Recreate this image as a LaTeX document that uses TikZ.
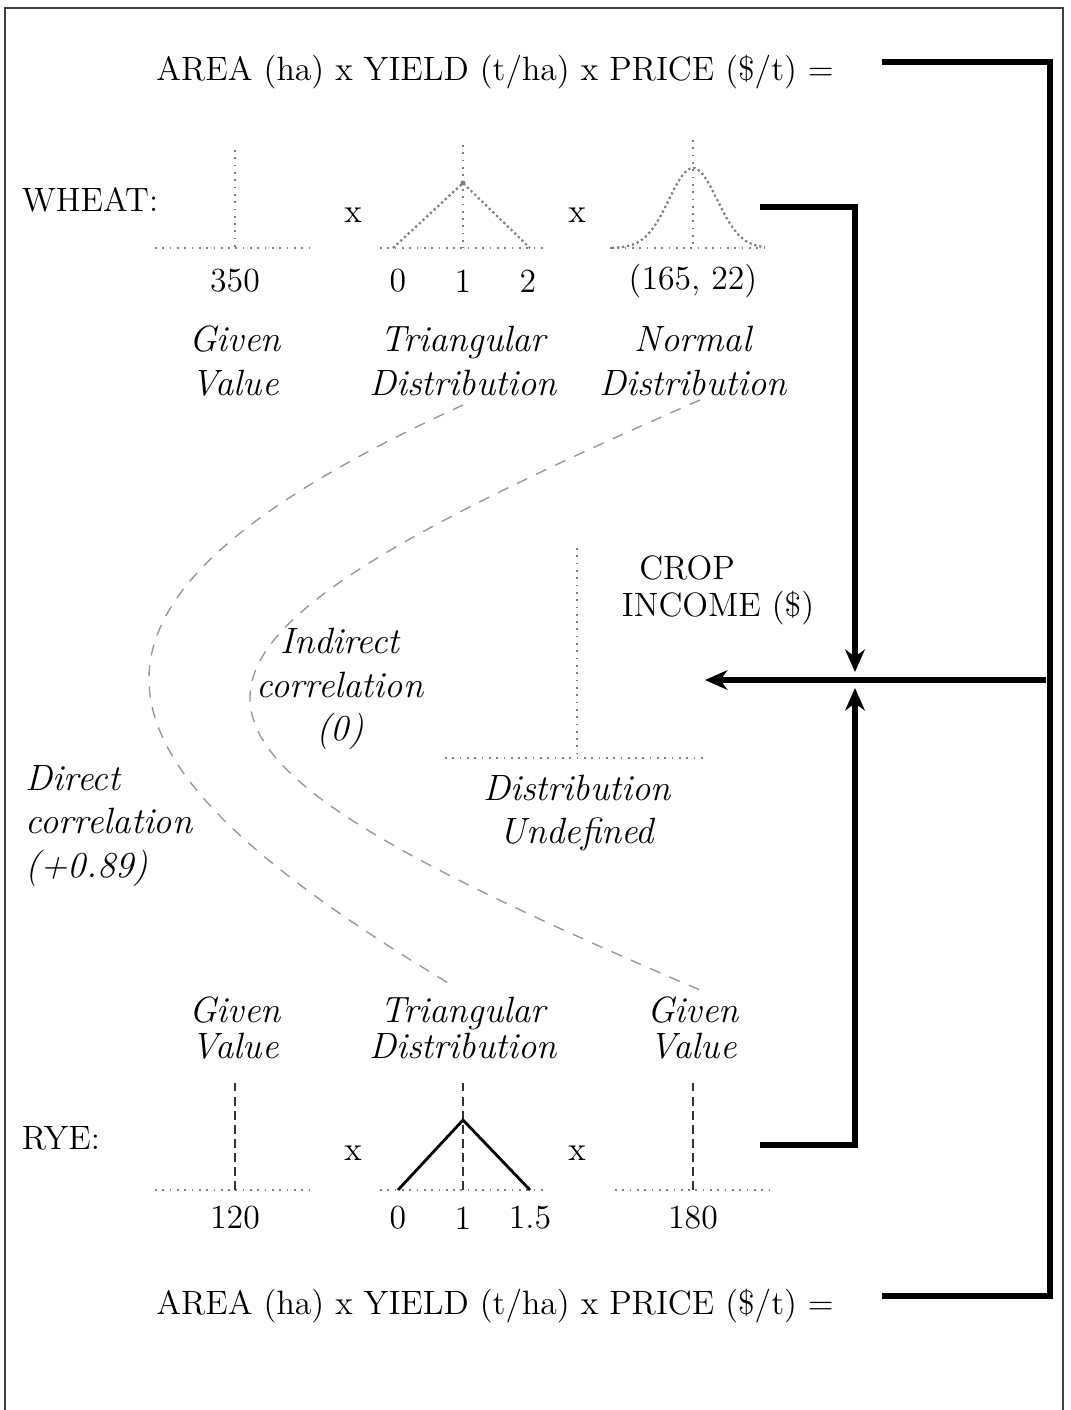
\documentclass[tikz,border=0pt]{standalone}
\usetikzlibrary{arrows.meta}

\begin{document}
\begin{tikzpicture}[x=0.0125cm,y=-0.0125cm,
    lbl/.style={font=\large},
    dlbl/.style={font=\fontsize{13}{15.5}\selectfont\itshape,align=center},
    axisline/.style={gray,dotted,line width=0.6pt},
    flow/.style={line width=2pt},
    corr/.style={gray!80,dash pattern=on 4pt off 3.5pt,line width=0.5pt}]
  \useasboundingbox (0,0) rectangle (1071,1410);
  % frame
  \draw[line width=0.8pt,black!75] (5,1410) -- (5,8) -- (1063,8) -- (1063,1410);
  % equations
  \node[lbl] (topeq) at (495,72) {AREA (ha) x YIELD (t/ha) x PRICE (\$/t) =};
  \node[lbl] (boteq) at (495,1306) {AREA (ha) x YIELD (t/ha) x PRICE (\$/t) =};
  \node[lbl,anchor=west] (wheat) at (12,200) {WHEAT:};
  \node[lbl,anchor=west] (rye) at (12,1138) {RYE:};
  % wheat sketches
  \draw[axisline] (155,248) -- (315,248);
  \draw[axisline] (235,150) -- (235,248);
  \draw[axisline] (380,248) -- (545,248);
  \draw[axisline] (463,145) -- (463,248);
  \draw[gray,densely dotted,line width=0.8pt] (393,248) -- (463,183) -- (530,248);
  \fill[gray] (463,183) circle (2.5);
  \draw[axisline] (610,248) -- (765,248);
  \draw[axisline] (693,140) -- (693,248);
  \draw[gray,densely dotted,line width=0.8pt] plot[domain=612:765,samples=60]
      (\x,{248-80*exp(-0.5*((\x-693)/24)^2)});
  \node[lbl] (wx1) at (353,215) {x};
  \node[lbl] (wx2) at (577,215) {x};
  \node[lbl] (warea) at (235,281) {350};
  \node[lbl] (wy0) at (398,281) {0};
  \node[lbl] (wy1) at (463,281) {1};
  \node[lbl] (wy2) at (528,281) {2};
  \node[lbl] (wprice) at (693,281) {(165, 22)};
  \node[dlbl] (wgiven) at (235,361) {Given\\Value};
  \node[dlbl] (wtri) at (463,361) {Triangular\\Distribution};
  \node[dlbl] (wnorm) at (693,361) {Normal\\Distribution};
  % outcome
  \draw[axisline] (577,548) -- (577,758);
  \draw[axisline] (445,758) -- (705,758);
  \node[dlbl] (undef) at (577,813) {Distribution\\Undefined};
  \node[lbl] (crop) at (687,568) {CROP};
  \node[lbl] (income) at (718,608) {INCOME (\$)};
  \node[dlbl] (indirect) at (340,689) {Indirect\\correlation\\(0)};
  \node[dlbl,anchor=west,align=left] (direct) at (16,826) {Direct\\correlation\\(+0.89)};
  % rye sketches
  \node[dlbl] (rgiven) at (235,1028) {Given\\[-2.5pt]Value};
  \node[dlbl] (rtri) at (463,1028) {Triangular\\[-2.5pt]Distribution};
  \node[dlbl] (rprice) at (693,1028) {Given\\[-2.5pt]Value};
  \draw[axisline] (155,1190) -- (312,1190);
  \draw[black!80,densely dashed,line width=0.7pt] (235,1083) -- (235,1190);
  \draw[axisline] (380,1190) -- (545,1190);
  \draw[black!80,densely dashed,line width=0.7pt] (463,1083) -- (463,1190);
  \draw[line width=1pt] (398,1190) -- (463,1120) -- (530,1190);
  \draw[axisline] (615,1190) -- (772,1190);
  \draw[black!80,densely dashed,line width=0.7pt] (693,1083) -- (693,1190);
  \node[lbl] (rx1) at (353,1153) {x};
  \node[lbl] (rx2) at (577,1153) {x};
  \node[lbl] (rarea) at (235,1218) {120};
  \node[lbl] (ry0) at (398,1218) {0};
  \node[lbl] (ry1) at (463,1218) {1};
  \node[lbl] (ry2) at (530,1218) {1.5};
  \node[lbl] (rpr) at (693,1218) {180};
  % correlations
  \coordinate (dirA) at (463,405);
  \coordinate (dirB) at (455,987);
  \coordinate (indA) at (700,400);
  \coordinate (indB) at (700,990);
  \draw[corr] (dirA) .. controls (17,609) and (75,760) .. (dirB);
  \draw[corr] (indA) .. controls (91,666) and (109,737) .. (indB);
  % income lines
  \coordinate (tl) at (882,62);
  \coordinate (tr) at (1050,62);
  \coordinate (br) at (1050,1296);
  \coordinate (bl) at (882,1296);
  \draw[flow] (tl) -- (tr) -- (br) -- (bl);
  \coordinate (hin) at (1046,680);
  \coordinate (hout) at (705,680);
  \draw[flow,-{Stealth[length=8pt,width=7pt]}] (hin) -- (hout);
  \coordinate (wout) at (760,207);
  \coordinate (wcorner) at (855,207);
  \coordinate (wtip) at (855,672);
  \draw[flow,-{Stealth[length=8pt,width=7pt]}] (wout) -- (wcorner) -- (wtip);
  \coordinate (rout) at (760,1145);
  \coordinate (rcorner) at (855,1145);
  \coordinate (rtip) at (855,688);
  \draw[flow,-{Stealth[length=8pt,width=7pt]}] (rout) -- (rcorner) -- (rtip);
\end{tikzpicture}
\end{document}
